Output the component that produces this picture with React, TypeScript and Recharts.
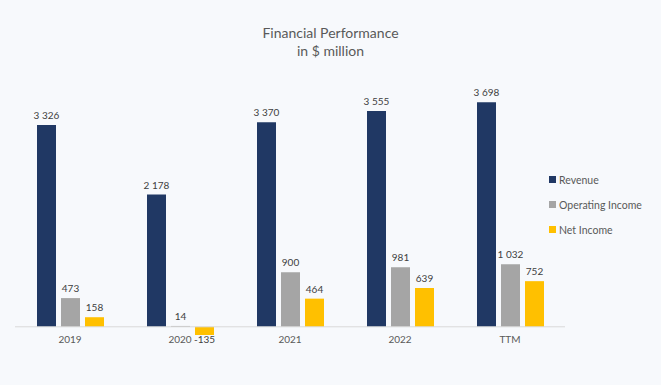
import React from 'react';
import { BarChart, Bar, XAxis, YAxis, ReferenceLine, LabelList } from 'recharts';

const categories = ['2019', '2020', '2021', '2022', 'TTM'];
const revenue = [3326, 2178, 3370, 3555, 3698];
const operatingIncome = [473, 14, 900, 981, 1032];
const netIncome = [158, -135, 464, 639, 752];

const seriesNames = ['Revenue', 'Operating Income', 'Net Income'];
const seriesColors = ['#203864', '#a5a5a5', '#ffc000'];

const data = categories.map((c, i) => ({
  name: c,
  revenue: revenue[i],
  operating: operatingIncome[i],
  net: netIncome[i],
}));

const FONT = 'Lato, "Open Sans", sans-serif';
const fmt = (v: number) => {
  const s = Math.abs(v).toString().replace(/\B(?=(\d{3})+(?!\d))/g, ' ');
  return v < 0 ? '-' + s : s;
};

const ValueLabel = (props: any) => {
  const { x, y, width, height, value } = props;
  const top = Math.min(y, y + height);
  const bottom = Math.max(y, y + height);
  const cx = x + width / 2;
  if (value < 0) {
    return (
      <text x={cx} y={bottom + 8} textAnchor="middle" fontSize={10} fill="#404040" fontFamily={FONT}>
        {fmt(value)}
      </text>
    );
  }
  return (
    <text x={cx} y={top - 6} textAnchor="middle" fontSize={10} fill="#404040" fontFamily={FONT}>
      {fmt(value)}
    </text>
  );
};

const CatTick = (props: any) => {
  const { x, y, payload } = props;
  return (
    <text x={x} y={y + 8} textAnchor="middle" fontSize={10} fill="#595959" fontFamily={FONT}>
      {payload.value}
    </text>
  );
};

const LegendBox = () => (
  <div style={{ position: 'absolute', left: 549, top: 167, fontFamily: FONT, fontSize: 10.5, color: '#595959' }}>
    {seriesNames.map((n, i) => (
      <div key={n} style={{ display: 'flex', alignItems: 'center', height: 25 }}>
        <span style={{ width: 7, height: 7, background: seriesColors[i], marginRight: 3, display: 'inline-block' }} />
        <span>{n}</span>
      </div>
    ))}
  </div>
);

export default function App() {
  return (
    <div style={{ position: 'fixed', left: 0, top: 0, width: 661, height: 385, background: '#f7f9fc' }}>
      <div style={{ position: 'absolute', left: 0, top: 24, width: 661, textAlign: 'center', fontFamily: FONT, fontSize: 14, color: '#595959', lineHeight: '18px' }}>
        <div>Financial Performance</div>
        <div>in $ million</div>
      </div>
      <BarChart
        width={661}
        height={385}
        data={data}
        margin={{ top: 84, right: 96, bottom: 30, left: 15 }}
        barSize={19}
        barGap={5}
        style={{ position: 'absolute', left: 0, top: 0 }}
      >
        <XAxis dataKey="name" axisLine={false} tickLine={false} tickSize={0} tickMargin={0} height={20} tick={<CatTick />} interval={0} />
        <YAxis hide type="number" domain={[-135, 4000]} allowDataOverflow />
        <ReferenceLine y={0} stroke="#d9d9d9" strokeWidth={1} />
        <Bar dataKey="revenue" name={seriesNames[0]} fill={seriesColors[0]} isAnimationActive={false}>
          <LabelList dataKey="revenue" content={<ValueLabel />} />
        </Bar>
        <Bar dataKey="operating" name={seriesNames[1]} fill={seriesColors[1]} isAnimationActive={false}>
          <LabelList dataKey="operating" content={<ValueLabel />} />
        </Bar>
        <Bar dataKey="net" name={seriesNames[2]} fill={seriesColors[2]} isAnimationActive={false}>
          <LabelList dataKey="net" content={<ValueLabel />} />
        </Bar>
      </BarChart>
      <LegendBox />
    </div>
  );
}
